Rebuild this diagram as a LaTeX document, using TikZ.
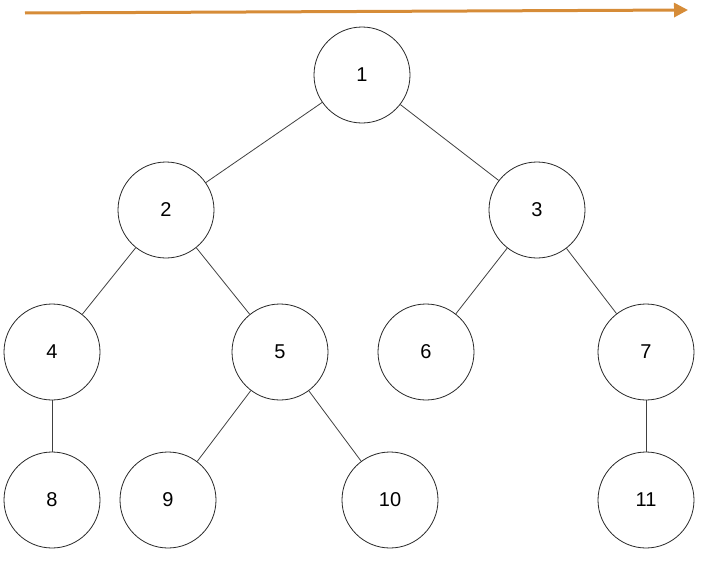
\documentclass[tikz,border=0pt]{standalone}
\usepackage{fontspec}
\setmainfont{Liberation Sans}
\usetikzlibrary{arrows.meta}
\definecolor{arr}{RGB}{214,140,56}
\begin{document}
\begin{tikzpicture}[x=1pt,y=-1pt,
  tn/.style={circle,draw=black!85,line width=0.8pt,minimum size=96pt,inner sep=0pt,font=\fontsize{20}{24}\selectfont},
  ed/.style={draw=black!75,line width=0.8pt}]
\useasboundingbox (0,0) rectangle (703,562);
\node[tn] (n1) at (362,75) {1};
\node[tn] (n2) at (166,210) {2};
\node[tn] (n3) at (537,210) {3};
\node[tn] (n4) at (52,352) {4};
\node[tn] (n5) at (280,352) {5};
\node[tn] (n6) at (426,352) {6};
\node[tn] (n7) at (646,352) {7};
\node[tn] (n8) at (52,500) {8};
\node[tn] (n9) at (168,500) {9};
\node[tn] (n10) at (390,500) {10};
\node[tn] (n11) at (646,500) {11};
\foreach \a/\b in {n1/n2,n1/n3,n2/n4,n2/n5,n3/n6,n3/n7,n4/n8,n5/n9,n5/n10,n7/n11}
  \draw[ed] (\a) -- (\b);
\coordinate (s) at (25,13);
\coordinate (e) at (688,10);
\draw[arr,line width=3pt,-{Triangle[length=14pt,width=14pt]}] (s) -- (e);
\end{tikzpicture}
\end{document}
